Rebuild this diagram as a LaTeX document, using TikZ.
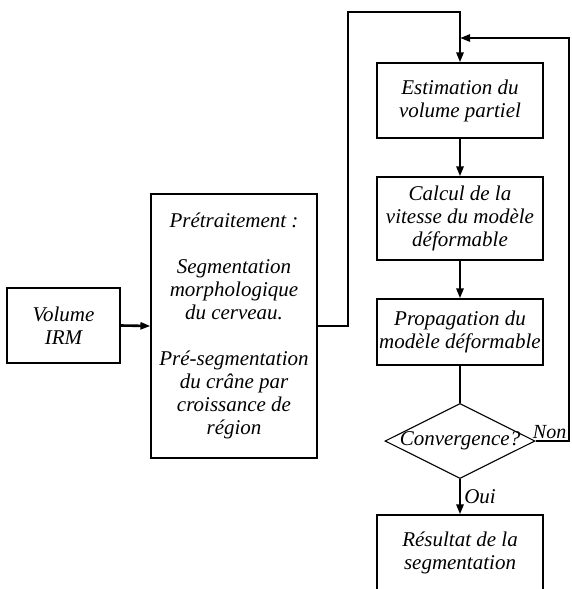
\documentclass[tikz,border=0pt]{standalone}
\usepackage{fontspec}
\setmainfont{Liberation Serif}
\usetikzlibrary{arrows.meta,shapes.geometric}
\tikzset{
  box/.style={draw, line width=1.1pt, inner sep=0pt, align=center, font=\itshape},
  conn/.style={line width=2.6pt, -{Triangle[length=10pt,width=7pt]}},
  connplain/.style={line width=2.6pt},
  lbl/.style={font=\itshape, inner sep=1pt}
}
\begin{document}
\begin{tikzpicture}[x=1pt,y=-1pt]
\fontsize{21}{23}\selectfont
\clip (0,0) rectangle (571,589);
\fill[white] (0,0) rectangle (571,589);
\node[box, minimum width=113pt, minimum height=75pt] (irm) at (63.5,325.5) {Volume\\IRM};
\node[box, minimum width=166pt, minimum height=264pt] (pre) at (234,326)
  {Prétraitement~:\\[23pt]Segmentation\\morphologique\\du cerveau.\\[23pt]Pré-segmentation\\du crâne par\\croissance de\\région};
\node[box, minimum width=166pt, minimum height=75pt] (est) at (460,100.5) {Estimation du\\volume partiel};
\node[box, minimum width=166pt, minimum height=83pt] (calc) at (460,218.5) {Calcul de la\\vitesse du modèle\\déformable};
\node[box, minimum width=166pt, minimum height=66pt] (prop) at (460,332) {Propagation du\\modèle déformable};
\node[draw, line width=1.1pt, diamond, minimum width=150pt, minimum height=75pt, inner sep=0pt] (conv) at (460,441) {};
\node[lbl] at (conv) {Convergence?};
\node[box, minimum width=166pt, minimum height=76pt] (res) at (460,553) {Résultat de la\\segmentation};
\coordinate (top) at (348,12);
\coordinate (rgt) at (569,38);
\coordinate (join) at (460,38);
\coordinate (nonpos) at (566.5,439);
\draw[conn] (irm.east) -- (pre.west);
\draw[conn] (pre.east) -| (top) -| (est.north);
\draw[conn] (est.south) -- (calc.north);
\draw[conn] (calc.south) -- (prop.north);
\draw[connplain] (prop.south) -- (conv.north);
\draw[conn] (conv.south) -- node[lbl, anchor=west, xshift=2pt] {Oui} (res.north);
\draw[conn] (conv.east) -| (rgt) -- (join);
\node[lbl, anchor=south east, inner sep=0pt, font=\itshape\fontsize{20}{23}\selectfont] (non) at (nonpos) {Non};
\end{tikzpicture}
\end{document}
